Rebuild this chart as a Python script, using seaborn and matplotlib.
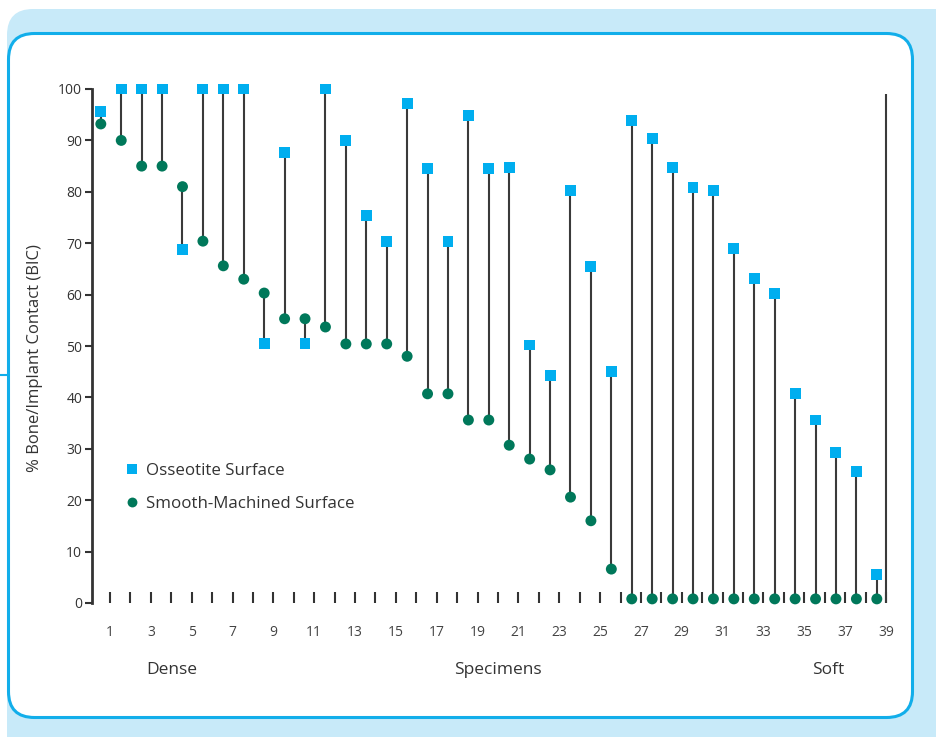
import pandas as pd
import matplotlib.pyplot as plt
import seaborn as sns
from matplotlib.patches import FancyBboxPatch
from matplotlib.lines import Line2D

# Data
specimens = list(range(1, 40))
osseotite = [95.7, 100, 100, 100, 68.7, 100, 100, 100, 50.5, 87.7,
             50.5, 100, 90, 75.3, 70.4, 97.2, 84.6, 70.4, 94.9, 84.6,
             84.8, 50.2, 44.2, 80.3, 65.4, 45, 93.8, 90.3, 84.8, 80.9,
             80.3, 68.9, 63.2, 60.3, 40.7, 35.6, 29.2, 25.5, 5.6]
smooth = [93.2, 90, 85, 85, 81, 70.4, 65.6, 63, 60.3, 55.3,
          55.3, 53.7, 50.4, 50.4, 50.4, 48, 40.7, 40.7, 35.6, 35.6,
          30.7, 28, 25.9, 20.6, 16, 6.6, 0.8, 0.8, 0.8, 0.8,
          0.8, 0.8, 0.8, 0.8, 0.8, 0.8, 0.8, 0.8, 0.8]
odd_labels = [str(s) if s % 2 == 1 else '' for s in specimens]

df = pd.DataFrame({'specimen': specimens,
                   'Osseotite Surface': osseotite,
                   'Smooth-Machined Surface': smooth})
# markers sit half a step left of their tick
df['pos'] = df['specimen'] - 0.45
long = df.melt(id_vars=['specimen', 'pos'], var_name='surface', value_name='bic')

sns.set_theme(style='white')
plt.rcParams['font.family'] = ['Open Sans', 'DejaVu Sans']

fig = plt.figure(figsize=(9.36, 7.37), dpi=100, facecolor='white')

# background panels (pixel coordinates)
fig.add_artist(FancyBboxPatch((7, -30), 960, 758, boxstyle='round,pad=0,rounding_size=26',
                              transform=None, facecolor='#c8eaf9', edgecolor='none', zorder=-3))
fig.add_artist(FancyBboxPatch((8.5, 19.5), 904, 684, boxstyle='round,pad=0,rounding_size=26',
                              transform=None, facecolor='white', edgecolor='#12aeea',
                              linewidth=2.2, zorder=-2))
fig.add_artist(Line2D([0, 8], [362, 362], transform=None, color='#12aeea', linewidth=1.5, zorder=-2))

ax = fig.add_axes([92 / 936, 134 / 737, 808 / 936, 514 / 737])
ax.set_facecolor('none')

# connecting lines
ax.vlines(df['pos'], df['Smooth-Machined Surface'], df['Osseotite Surface'],
          color='#3a3a3a', linewidth=1.5, zorder=2)
ax.vlines(39, 0, 99, color='#3a3a3a', linewidth=1.5, zorder=2)

sns.scatterplot(data=long, x='pos', y='bic', hue='surface', style='surface',
                palette={'Osseotite Surface': '#00aeef', 'Smooth-Machined Surface': '#00785a'},
                markers={'Osseotite Surface': 's', 'Smooth-Machined Surface': 'o'},
                s=62, edgecolor='none', linewidth=0, ax=ax, zorder=3, clip_on=False)

ax.set_xlim(1 - 18 / 20.42, 39 + 14 / 20.42)
ax.set_ylim(0, 100)
ax.set_yticks(range(0, 101, 10))
ax.set_xticks(specimens)
ax.set_xticklabels(odd_labels)

for side in ['top', 'right', 'bottom']:
    ax.spines[side].set_visible(False)
ax.spines['left'].set_color('#333333')
ax.spines['left'].set_linewidth(2)

ax.tick_params(axis='y', direction='out', length=5, width=1.5, color='#333333',
               labelsize=10, labelcolor='#333333', pad=2, left=True)
ax.tick_params(axis='x', direction='in', length=8, width=1.5, color='#333333',
               labelsize=10, labelcolor='#444444', pad=15.5, bottom=True)

ax.set_xlabel('')
ax.set_ylabel('% Bone/Implant Contact (BIC)', fontsize=12, color='#333333')
ax.yaxis.set_label_coords(-0.061, 0.477)

handles, labels = ax.get_legend_handles_labels()
ax.legend(handles, labels, loc='upper left', bbox_to_anchor=(124 / 936, 1 - 463 / 737),
          bbox_transform=fig.transFigure, frameon=False, fontsize=12.2, handlelength=0.9,
          handletextpad=0.4, labelspacing=0.98, borderpad=0, borderaxespad=0,
          markerscale=0.9, labelcolor='#333333')

fig.text(172 / 936, 1 - 670 / 737, 'Dense', ha='center', va='center', fontsize=12.5, color='#333333')
fig.text(498 / 936, 1 - 670 / 737, 'Specimens', ha='center', va='center', fontsize=12.5, color='#333333')
fig.text(828 / 936, 1 - 670 / 737, 'Soft', ha='center', va='center', fontsize=12.5, color='#333333')

fig.savefig('out.png', dpi=100, facecolor=fig.get_facecolor())
